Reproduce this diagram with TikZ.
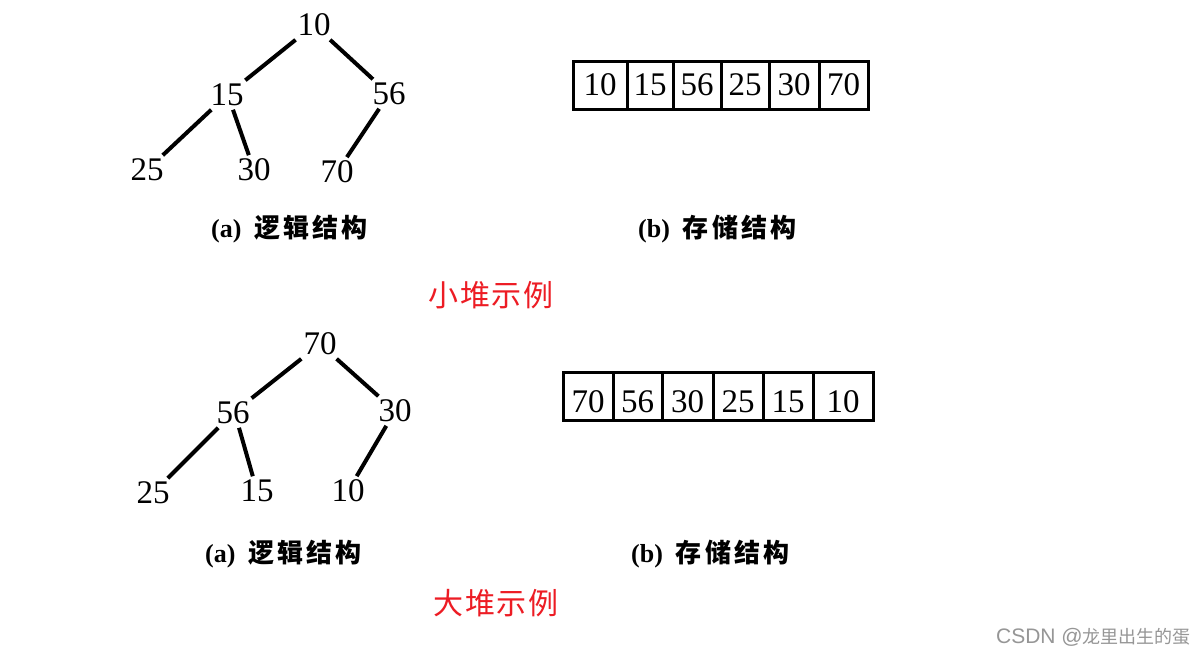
\documentclass[tikz,border=0pt]{standalone}
\usepackage{fontspec}
\setmainfont{Liberation Serif}
\newfontfamily\cjkcap{Noto Sans CJK SC}[LetterSpace=12]
\newfontfamily\cjktitle{Noto Sans CJK SC}[LetterSpace=6]
\newfontfamily\cjkmark{Noto Sans CJK SC}
\newfontfamily\latinmark{Liberation Sans}
\definecolor{titlered}{RGB}{237,28,36}
\definecolor{markgray}{RGB}{150,150,150}
\begin{document}
\begin{tikzpicture}[x=1pt,y=-1pt,
  num/.style={font=\fontsize{33}{33}\selectfont, inner sep=3.5pt},
  edge/.style={line width=4pt},
  cell/.style={draw, line width=3pt, minimum height=48pt, inner sep=0pt,
    font=\fontsize{33}{33}\selectfont},
  caption/.style={anchor=west, inner sep=0pt, font=\fontsize{26}{26}\selectfont\bfseries},
  title/.style={text=titlered, inner sep=0pt, font=\cjktitle\fontsize{30}{30}\selectfont},
  watermark/.style={text=markgray, anchor=east, inner sep=0pt}]
\useasboundingbox[fill=white] (0,0) rectangle (1196,659);

% ---- small heap tree ----
\node[num] (p10) at (314,25) {10};
\node[num] (p15) at (227,95) {15};
\node[num] (p56) at (389,94) {56};
\node[num] (p25) at (147,170) {25};
\node[num] (p30) at (254,170) {30};
\node[num] (p70) at (337,172) {70};
\draw[edge] (p10) -- (p15);
\draw[edge] (p10) -- (p56);
\draw[edge] (p15) -- (p25);
\draw[edge] ([xshift=6pt]p15.south) -- (p30);
\draw[edge] (p56) -- (p70);

% ---- small heap array ----
\node[cell, minimum width=54pt] (s1) at (600,85) {10};
\node[cell, minimum width=46pt] (s2) at (650,85) {15};
\node[cell, minimum width=48pt] (s3) at (697,85) {56};
\node[cell, minimum width=48pt] (s4) at (745,85) {25};
\node[cell, minimum width=50pt] (s5) at (794,85) {30};
\node[cell, minimum width=49pt] (s6) at (843.5,85) {70};

\node[caption] (capa1) at (211,229) {(a)\hspace{13pt}{\cjkcap 逻辑结构}};
\node[caption] (capb1) at (638,229) {(b)\hspace{13pt}{\cjkcap 存储结构}};
\node[title] (t1) at (491,295) {小堆示例};

% ---- big heap tree ----
\node[num] (q70) at (320,344) {70};
\node[num] (q56) at (233,413) {56};
\node[num] (q30) at (395,411) {30};
\node[num] (q25) at (153,493) {25};
\node[num] (q15) at (257,491) {15};
\node[num] (q10) at (348,491) {10};
\draw[edge] (q70) -- (q56);
\draw[edge] (q70) -- (q30);
\draw[edge] (q56) -- (q25);
\draw[edge] ([xshift=6pt]q56.south) -- (q15);
\draw[edge] (q30) -- (q10);

% ---- big heap array ----
\begin{scope}[every node/.append style={text height=33pt}]
\node[cell, minimum width=50pt] (b1) at (588,396.5) {70};
\node[cell, minimum width=49pt] (b2) at (637.5,396.5) {56};
\node[cell, minimum width=51pt] (b3) at (687.5,396.5) {30};
\node[cell, minimum width=50pt] (b4) at (738,396.5) {25};
\node[cell, minimum width=50pt] (b5) at (788,396.5) {15};
\node[cell, minimum width=60pt] (b6) at (843,396.5) {10};
\end{scope}

\node[caption] (capa2) at (205,554) {(a)\hspace{13pt}{\cjkcap 逻辑结构}};
\node[caption] (capb2) at (631,554) {(b)\hspace{13pt}{\cjkcap 存储结构}};
\node[title] (t2) at (496,603) {大堆示例};

% ---- watermark ----
\node[watermark] (wm) at (1191,637) {{\latinmark\fontsize{21}{21}\selectfont CSDN @}{\cjkmark\fontsize{18}{18}\selectfont 龙里出生的蛋}};
\end{tikzpicture}
\end{document}
